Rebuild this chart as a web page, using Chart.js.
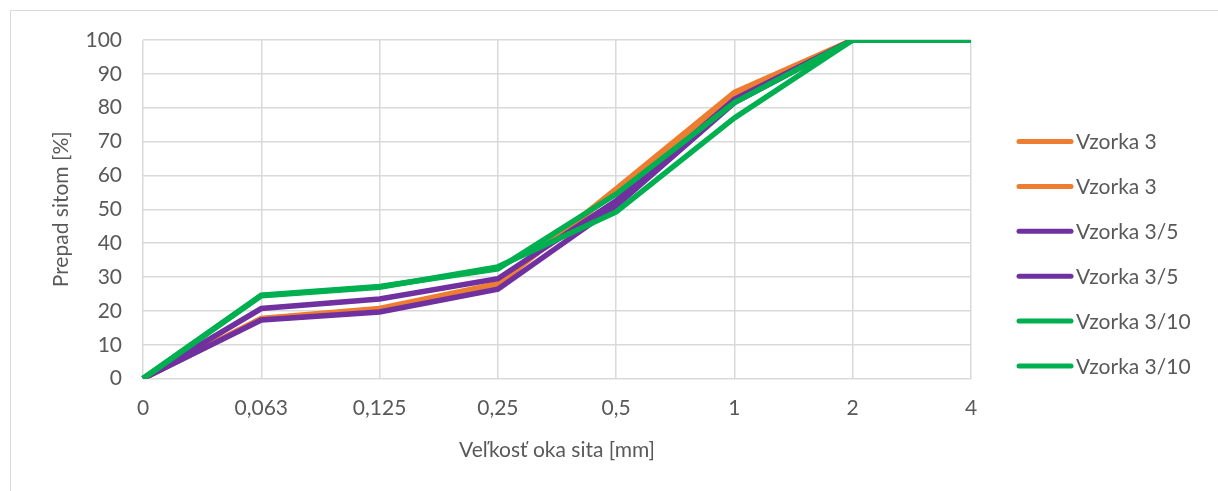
<!DOCTYPE html>
<html>
<head>
<meta charset="utf-8">
<script src="https://cdn.jsdelivr.net/npm/chart.js@4"></script>
<style>
  body { margin: 0; background: #fff; }
  #wrap {
    position: absolute; left: 10px; top: 10px;
    width: 1207px; height: 480px;
    border-left: 1px solid #d9d9d9; border-top: 1px solid #d9d9d9;
  }
</style>
</head>
<body>
<div id="wrap"><canvas id="sito-chart" width="1207" height="480"></canvas></div>
<script>
// velkost oka sita a prepad pre jednotlive vzorky
const sitaLabels = ['0', '0,063', '0,125', '0,25', '0,5', '1', '2', '4'];
const vzorka3a = [0, 17.8, 20.7, 28.0, 56.0, 84.5, 100, 100];
const vzorka3b = [0, 17.6, 20.5, 27.8, 55.5, 84.0, 100, 100];
const vzorka35a = [0, 20.7, 23.5, 29.5, 52.5, 82.5, 100, 100];
const vzorka35b = [0, 17.3, 19.7, 26.4, 51.0, 81.5, 100, 100];
const vzorka310a = [0, 24.6, 27.2, 32.4, 54.5, 81.5, 100, 100];
const vzorka310b = [0, 24.5, 27.0, 33.0, 49.2, 77.0, 100, 100];

const seriesNames = ['Vzorka 3', 'Vzorka 3', 'Vzorka 3/5', 'Vzorka 3/5', 'Vzorka 3/10', 'Vzorka 3/10'];
const seriesData = [vzorka3a, vzorka3b, vzorka35a, vzorka35b, vzorka310a, vzorka310b];
const seriesColors = ['#ED7D31', '#ED7D31', '#7030A0', '#7030A0', '#00B050', '#00B050'];

const fontFam = 'Lato, "Open Sans", sans-serif';
const textColor = '#595959';

// legenda vpravo - ciara + nazov
const sideLegend = {
    id: 'sideLegend',
    afterDraw(chart) {
        const ctx = chart.ctx;
        ctx.save();
        ctx.font = '21px ' + fontFam;
        ctx.textBaseline = 'middle';
        ctx.fillStyle = textColor;
        ctx.lineCap = 'round';
        ctx.lineWidth = 5;
        chart.data.datasets.forEach((ds, i) => {
            const y = 130.5 + i * 44.9;
            ctx.strokeStyle = ds.borderColor;
            ctx.beginPath();
            ctx.moveTo(1008, y);
            ctx.lineTo(1060, y);
            ctx.stroke();
            ctx.fillText(ds.label, 1065, y + 1);
        });
        ctx.restore();
    }
};

window.onload = function () {
    const ctx = document.getElementById('sito-chart').getContext('2d');
    new Chart(ctx, {
        type: 'line',
        data: {
            labels: sitaLabels,
            datasets: seriesData.map((d, i) => ({
                label: seriesNames[i],
                data: d,
                borderColor: seriesColors[i],
                backgroundColor: seriesColors[i],
                borderWidth: 5.5,
                pointRadius: 0,
                tension: 0,
                fill: false,
                order: 5 - i
            }))
        },
        options: {
            responsive: false,
            animation: false,
            layout: { padding: { left: 34, right: 247, top: 29, bottom: 28 } },
            plugins: {
                legend: { display: false },
                tooltip: { enabled: false }
            },
            scales: {
                x: {
                    offset: false,
                    grid: { color: '#d9d9d9', lineWidth: 1.5, drawTicks: false },
                    border: { display: false },
                    ticks: { padding: 17, color: textColor, font: { family: fontFam, size: 21 } },
                    title: {
                        display: true,
                        text: 'Veľkosť oka sita [mm]',
                        color: textColor,
                        font: { family: fontFam, size: 21 },
                        padding: { top: 0, bottom: 0 }
                    }
                },
                y: {
                    min: 0,
                    max: 100,
                    grid: { color: '#d9d9d9', lineWidth: 1.5, drawTicks: false },
                    border: { display: false },
                    ticks: { stepSize: 10, padding: 21, color: textColor, font: { family: fontFam, size: 21 } },
                    title: {
                        display: true,
                        text: 'Prepad sitom [%]',
                        color: textColor,
                        font: { family: fontFam, size: 21 },
                        padding: { top: 4, bottom: 4 }
                    },
                    afterFit(scale) {
                        scale.width = 98;
                        scale.paddingTop = 0;
                        scale.paddingBottom = 0;
                    }
                }
            }
        },
        plugins: [sideLegend]
    });
};
</script>
</body>
</html>
